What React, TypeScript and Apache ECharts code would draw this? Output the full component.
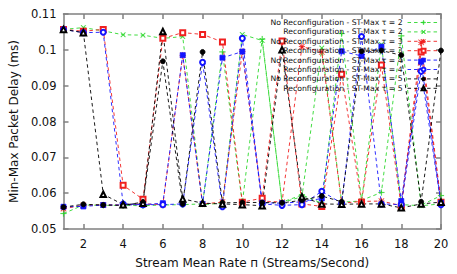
import React, { useEffect, useRef } from "react";
import * as echarts from "echarts";

const rates = [1, 2, 3, 4, 5, 6, 7, 8, 9, 10, 11, 12, 13, 14, 15, 16, 17, 18, 19, 20];
const xTicks = [2, 4, 6, 8, 10, 12, 14, 16, 18, 20];

const noReconf2 = [0.0543, 0.0567, 0.0566, 0.0566, 0.0565, 0.0567, 0.0568, 0.057, 0.0994, 0.0572, 0.103, 0.0575, 0.0595, 0.0572, 0.1045, 0.058, 0.0602, 0.1039, 0.0567, 0.0593];
const reconf2 = [0.1057, 0.1062, 0.1053, 0.1042, 0.1041, 0.1032, 0.1037, 0.0568, 0.0572, 0.1043, 0.1026, 0.0574, 0.059, 0.1005, 0.0575, 0.0578, 0.1015, 0.0568, 0.0565, 0.057];
const noReconf3 = [0.0557, 0.0566, 0.0567, 0.0567, 0.057, 0.0568, 0.0985, 0.057, 0.0575, 0.0995, 0.0578, 0.0575, 0.1009, 0.0994, 0.0572, 0.0577, 0.0578, 0.0565, 0.1021, 0.0575];
const reconf3 = [0.1057, 0.1052, 0.1057, 0.0622, 0.0583, 0.1032, 0.1048, 0.1043, 0.1022, 0.0575, 0.0586, 0.1025, 0.057, 0.0563, 0.0932, 0.0575, 0.0958, 0.0562, 0.0994, 0.0575];
const noReconf4 = [0.0562, 0.0563, 0.0567, 0.0567, 0.0568, 0.0572, 0.0985, 0.057, 0.0978, 0.0995, 0.0573, 0.0572, 0.0576, 0.0585, 0.0996, 0.0983, 0.1009, 0.0578, 0.0967, 0.0573];
const reconf4 = [0.1057, 0.1048, 0.1049, 0.057, 0.0568, 0.0568, 0.057, 0.0965, 0.0562, 0.1032, 0.057, 0.0566, 0.0568, 0.0605, 0.0572, 0.1037, 0.057, 0.0568, 0.094, 0.0568];
const noReconf5 = [0.0561, 0.0569, 0.0567, 0.0566, 0.0575, 0.0968, 0.057, 0.0994, 0.0573, 0.0574, 0.0574, 0.0573, 0.058, 0.0592, 0.0576, 0.0996, 0.0998, 0.0985, 0.0576, 0.0998];
const reconf5 = [0.1057, 0.1048, 0.0597, 0.0568, 0.0572, 0.1051, 0.0584, 0.0572, 0.057, 0.0568, 0.0565, 0.1, 0.059, 0.057, 0.0569, 0.057, 0.057, 0.0559, 0.057, 0.0575];

const seriesNames = [
  "No Reconfiguration - ST-Max τ = 2",
  "Reconfiguration - ST-Max τ = 2",
  "No Reconfiguration - ST-Max τ = 3",
  "Reconfiguration - ST-Max τ = 3",
  "No Reconfiguration - ST-Max τ = 4",
  "Reconfiguration - ST-Max τ = 4",
  "No Reconfiguration - ST-Max τ = 5",
  "Reconfiguration - ST-Max τ = 5",
];
const seriesValues = [noReconf2, reconf2, noReconf3, reconf3, noReconf4, reconf4, noReconf5, reconf5];

const GREEN = "#2cd82c";
const RED = "#f02020";
const BLUE = "#1414ff";
const BLACK = "#000000";
const colors = [GREEN, GREEN, RED, RED, BLUE, BLUE, BLACK, BLACK];

const PLUS = "path://M4.4,0H5.6V4.4H10V5.6H5.6V10H4.4V5.6H0V4.4H4.4Z";
const CROSS = "path://M1,0L5,4L9,0L10,1L6,5L10,9L9,10L5,6L1,10L0,9L4,5L0,1Z";
const STAR =
  "path://M4.5,0H5.5V10H4.5Z M0,4.5H10V5.5H0Z M1,0.3L9.7,9L9,9.7L0.3,1Z M9,0.3L9.7,1L1,9.7L0.3,9Z";
const symbols = [PLUS, CROSS, STAR, "emptyRect", "rect", "emptyCircle", "circle", "emptyTriangle"];
const symbolSizes = [6, 5, 6, 5, 5, 5, 5, 5.5];

const FONT = "DejaVu Sans";
const AXIS_GREY = "#808080";

export default function App() {
  const ref = useRef<HTMLDivElement>(null);
  useEffect(() => {
    if (!ref.current) return;
    const chart = echarts.init(ref.current, null, { renderer: "svg" });
    const series = seriesNames.map((name, i) => ({
      name,
      type: "line",
      xAxisIndex: 0,
      yAxisIndex: 0,
      data: rates.map((r, j) => [r, seriesValues[i][j]]),
      symbol: symbols[i],
      symbolSize: symbolSizes[i],
      showSymbol: true,
      color: colors[i],
      lineStyle: { color: colors[i], width: 0.9, type: [3.5, 3] },
      itemStyle: {
        color: colors[i],
        borderColor: colors[i],
        borderWidth: symbols[i].startsWith("path") ? 0.2 : 0.8,
      },
      emphasis: { disabled: true },
    }));
    const tickStyle = { lineStyle: { color: AXIS_GREY, width: 1.5 } };
    const yFmt = (v: number) => String(parseFloat(v.toFixed(2)));
    chart.setOption({
      animation: false,
      backgroundColor: "#ffffff",
      textStyle: { fontFamily: FONT },
      grid: { left: 55, right: 16, top: 14, bottom: 38, containLabel: false },
      legend: {
        data: seriesNames,
        orient: "vertical",
        align: "right",
        right: 17,
        top: 18.5,
        itemWidth: 32,
        itemHeight: 5,
        itemGap: 1.4,
        padding: 0,
        lineStyle: { width: 0.9, type: [3.5, 3] },
        itemStyle: { borderWidth: 0.6 },
        textStyle: { fontFamily: FONT, fontSize: 7.7, color: "#111", padding: [0, 0, 0, 0] },
        selectedMode: false,
      },
      xAxis: [
        {
          type: "value",
          position: "bottom",
          min: 1,
          max: 20,
          name: "Stream Mean Rate п (Streams/Second)",
          nameLocation: "middle",
          nameGap: 28,
          nameTextStyle: { fontFamily: FONT, fontSize: 12, color: "#111" },
          axisLine: { show: true, onZero: false, lineStyle: { color: AXIS_GREY, width: 1.5 } },
          axisTick: { show: true, inside: true, length: 5, customValues: xTicks, ...tickStyle },
          axisLabel: { customValues: xTicks, fontFamily: FONT, fontSize: 11.5, color: "#111", margin: 9 },
          splitLine: { show: false },
        },
        {
          type: "value",
          position: "top",
          min: 1,
          max: 20,
          axisLine: { show: true, onZero: false, lineStyle: { color: AXIS_GREY, width: 1.5 } },
          axisTick: { show: true, inside: true, length: 5, customValues: xTicks, ...tickStyle },
          axisLabel: { show: false },
          splitLine: { show: false },
        },
      ],
      yAxis: [
        {
          type: "value",
          position: "left",
          min: 0.05,
          max: 0.11,
          interval: 0.01,
          name: "Min-Max Packet Delay (ms)",
          nameLocation: "middle",
          nameGap: 38,
          nameTextStyle: { fontFamily: FONT, fontSize: 12, color: "#111" },
          axisLine: { show: true, onZero: false, lineStyle: { color: AXIS_GREY, width: 1.5 } },
          axisTick: { show: true, inside: true, length: 5, ...tickStyle },
          axisLabel: { formatter: yFmt, fontFamily: FONT, fontSize: 11.5, color: "#111", margin: 7 },
          splitLine: { show: false },
        },
        {
          type: "value",
          position: "right",
          min: 0.05,
          max: 0.11,
          interval: 0.01,
          axisLine: { show: true, onZero: false, lineStyle: { color: AXIS_GREY, width: 1.5 } },
          axisTick: { show: true, inside: true, length: 5, ...tickStyle },
          axisLabel: { show: false },
          splitLine: { show: false },
        },
      ],
      series,
    });
    return () => chart.dispose();
  }, []);
  return <div ref={ref} style={{ width: 457, height: 274, position: "absolute", left: 0, top: 0 }} />;
}
